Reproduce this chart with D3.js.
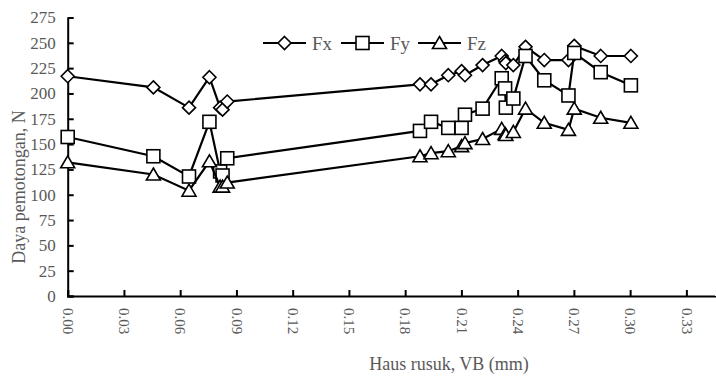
<!DOCTYPE html>
<html>
<head>
<meta charset="utf-8">
<script src="https://cdn.jsdelivr.net/npm/d3@7"></script>
<style>
  body { margin: 0; background: #fff; }
  svg text { font-family: "Liberation Serif", "Times New Roman", serif; fill: #595959; }
</style>
</head>
<body>
<div id="vis-container"></div>
<script>
// Data
var vb = [0.000, 0.0457, 0.0647, 0.0756, 0.0813, 0.0826, 0.0851, 0.1879, 0.1938, 0.2030, 0.2101, 0.2119,
          0.2213, 0.2315, 0.2333, 0.2337, 0.2377, 0.2442, 0.2542, 0.2671, 0.2702, 0.2843, 0.3004]
var fx = [217, 206, 186, 216, 186, 184, 192, 209, 209, 218, 222, 218, 228, 237, 232, 230, 228, 246, 233, 233, 247, 237, 237]
var fy = [157, 138, 118, 172, 123, 119, 136, 163, 172, 166, 166, 179, 185, 215, 205, 186, 195, 237, 213, 198, 240, 221, 208]
var fz = [132, 120, 104, 133, 108, 108, 112, 138, 141, 143, 148, 151, 155, 165, 160, 159, 162, 185, 171, 164, 185, 176, 171]
var seriesNames = ['Fx', 'Fy', 'Fz']
var xTicks = [0, 0.03, 0.06, 0.09, 0.12, 0.15, 0.18, 0.21, 0.24, 0.27, 0.30, 0.33]
var yTicks = [0, 25, 50, 75, 100, 125, 150, 175, 200, 225, 250, 275]

var series = [
  { name: seriesNames[0], values: fx, marker: 'diamond' },
  { name: seriesNames[1], values: fy, marker: 'square' },
  { name: seriesNames[2], values: fz, marker: 'triangle' }
]

var w = 716, h = 376

var svg = d3.select('#vis-container').append('svg')
    .attr('width', w)
    .attr('height', h)

// Scales
var xScale = d3.scaleLinear().domain([0, 0.345]).range([67.7, 714.5])
var yScale = d3.scaleLinear().domain([0, 275]).range([296, 17.5])

// Axes
var xAxis = d3.axisBottom(xScale).tickValues(xTicks).tickSize(-6).tickFormat(d3.format('.2f'))
var yAxis = d3.axisLeft(yScale).tickValues(yTicks).tickSize(-6)

var gx = svg.append('g')
    .attr('transform', 'translate(0,' + yScale(0) + ')')
    .call(xAxis)
gx.select('.domain').attr('stroke', '#000').attr('stroke-width', 2)
gx.selectAll('.tick line').attr('stroke', '#000').attr('stroke-width', 2)
gx.selectAll('.tick text')
    .attr('transform', 'rotate(90)')
    .attr('x', 12)
    .attr('y', 0)
    .attr('dy', '0.35em')
    .style('text-anchor', 'start')
    .style('font-size', '15px')

var gy = svg.append('g')
    .attr('transform', 'translate(' + xScale(0) + ',0)')
    .call(yAxis)
gy.select('.domain').attr('stroke', '#000').attr('stroke-width', 2)
gy.selectAll('.tick line').attr('stroke', '#000').attr('stroke-width', 2)
gy.selectAll('.tick text')
    .attr('x', -12)
    .style('font-size', '17px')

svg.selectAll('.domain').attr('d', function () { return d3.select(this).attr('d').replace(/V-?6/g, 'V0').replace(/H-?6/g, 'H0') })

// Axis titles
svg.append('text')
    .attr('x', 449)
    .attr('y', 370)
    .attr('text-anchor', 'middle')
    .style('font-size', '18px')
    .text('Haus rusuk, VB (mm)')

svg.append('text')
    .attr('transform', 'translate(25,187) rotate(-90)')
    .attr('text-anchor', 'middle')
    .style('font-size', '18px')
    .text('Daya pemotongan, N')

// Markers
function drawMarker(g, type, cx, cy) {
  if (type == 'diamond') {
    g.append('path')
      .attr('d', 'M' + cx + ',' + (cy - 6.5) + 'L' + (cx + 6.5) + ',' + cy + 'L' + cx + ',' + (cy + 6.5) + 'L' + (cx - 6.5) + ',' + cy + 'Z')
  } else if (type == 'square') {
    g.append('rect')
      .attr('x', cx - 6.5).attr('y', cy - 6.5).attr('width', 13).attr('height', 13)
  } else {
    g.append('path')
      .attr('d', 'M' + cx + ',' + (cy - 6.5) + 'L' + (cx + 7) + ',' + (cy + 5.5) + 'L' + (cx - 7) + ',' + (cy + 5.5) + 'Z')
  }
}

var line = d3.line()
    .x(function (d) { return xScale(d.x) })
    .y(function (d) { return yScale(d.y) })

series.forEach(function (s) {
  var pts = vb.map(function (x, i) { return { x: x, y: s.values[i] } })
  svg.append('path')
    .datum(pts)
    .attr('d', line)
    .attr('fill', 'none')
    .attr('stroke', '#000')
    .attr('stroke-width', 2.2)
  var mg = svg.append('g')
    .attr('fill', '#fff')
    .attr('stroke', '#000')
    .attr('stroke-width', 1.6)
  pts.forEach(function (p) { drawMarker(mg, s.marker, xScale(p.x), yScale(p.y)) })
})

// Legend
var legendX = [263, 341, 418]
series.forEach(function (s, i) {
  var lx = legendX[i], ly = 43
  svg.append('line')
    .attr('x1', lx).attr('x2', lx + 43)
    .attr('y1', ly).attr('y2', ly)
    .attr('stroke', '#000').attr('stroke-width', 2.2)
  var mg = svg.append('g').attr('fill', '#fff').attr('stroke', '#000').attr('stroke-width', 1.6)
  drawMarker(mg, s.marker, lx + 21.5, ly)
  svg.append('text')
    .attr('x', lx + 49)
    .attr('y', ly)
    .attr('dy', '0.35em')
    .style('font-size', '19px')
    .text(s.name)
})
</script>
</body>
</html>
